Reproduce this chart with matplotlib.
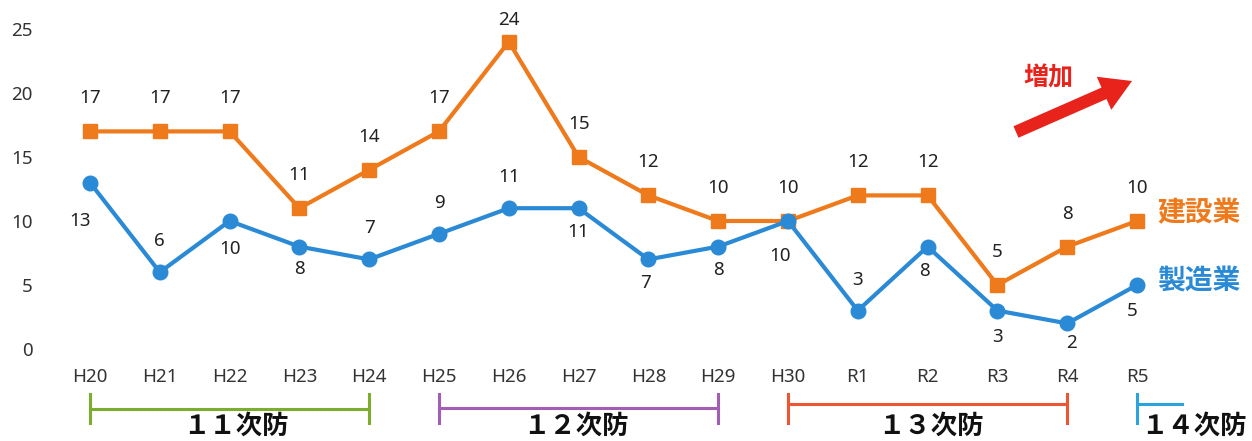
import matplotlib
matplotlib.use("Agg")
import matplotlib.pyplot as plt
from matplotlib.transforms import blended_transform_factory

plt.rcParams['font.family'] = ['Noto Sans', 'Noto Sans CJK JP', 'DejaVu Sans']

years = ["H20", "H21", "H22", "H23", "H24", "H25", "H26", "H27", "H28", "H29",
         "H30", "R1", "R2", "R3", "R4", "R5"]
construction = [17, 17, 17, 11, 14, 17, 24, 15, 12, 10, 10, 12, 12, 5, 8, 10]
manufacturing = [13, 6, 10, 8, 7, 9, 11, 11, 7, 8, 10, 3, 8, 3, 2, 5]
yticks = [0, 5, 10, 15, 20, 25]
series_names = ["建設業", "製造業"]
periods = ["１１次防", "１２次防", "１３次防", "１４次防"]
period_start = [0, 5, 10, 15]
period_end = [4, 9, 14, 15.65]
trend_label = "増加"

# label offsets (pixels) for data labels
con_offsets = [(0, 33)] * 6 + [(0, 22)] + [(0, 33)] * 9
mfg_offsets = [(-10, -38), (0, 31), (0, -28), (0, -22), (0, 31), (0, 31), (0, 31),
               (0, -24), (-3, -24), (0, -23), (-8, -35), (0, 31), (-3, -24),
               (0, -26), (4, -20), (-5, -26)]

W, H = 1252, 441
fig = plt.figure(figsize=(W / 100, H / 100), dpi=100)
ax_left, ax_right = 45, 1180
ax_bottom, ax_top = 349, 29  # pixels from top
ax = fig.add_axes([ax_left / W, (H - ax_bottom) / H, (ax_right - ax_left) / W,
                   (ax_bottom - ax_top) / H])
px_per_unit = 69.8
x0_px = 90
ax.set_xlim(-(x0_px - ax_left) / px_per_unit, (ax_right - x0_px) / px_per_unit)
ax.set_ylim(0, 25)

orange = "#EE7A1C"
blue = "#2A8AD6"
xs = list(range(len(years)))

ax.plot(xs, construction, color=orange, lw=3.0, marker="s", ms=10.5, zorder=3,
        clip_on=False)
ax.plot(xs, manufacturing, color=blue, lw=3.0, marker="o", ms=10.5, zorder=3,
        clip_on=False)

fs = 13.5
for x, v, (dx, dy) in zip(xs, construction, con_offsets):
    ax.annotate(str(v), (x, v), xytext=(dx * 0.72, dy * 0.72), textcoords="offset points",
                ha="center", va="center", fontsize=fs, color="#222222")
for x, v, (dx, dy) in zip(xs, manufacturing, mfg_offsets):
    ax.annotate(str(v), (x, v), xytext=(dx * 0.72, dy * 0.72), textcoords="offset points",
                ha="center", va="center", fontsize=fs, color="#222222")

for s in ax.spines.values():
    s.set_visible(False)
ax.set_yticks(yticks)
ax.set_xticks(xs)
ax.set_xticklabels(years)
ax.tick_params(axis="both", length=0, labelsize=fs, labelcolor="#333333")
ax.tick_params(axis="x", pad=14)
ax.tick_params(axis="y", pad=9)

# series labels on right
fig.text(1157 / W, (H - 213) / H, series_names[0], color=orange, fontsize=20,
         fontweight="bold", ha="left", va="center", family=["Noto Sans CJK JP"])
fig.text(1157 / W, (H - 281) / H, series_names[1], color=blue, fontsize=20,
         fontweight="bold", ha="left", va="center", family=["Noto Sans CJK JP"])

# trend arrow
red = "#E8231C"
fig.text(1048 / W, (H - 78) / H, trend_label, color=red, fontsize=18,
         fontweight="bold", ha="center", va="center", family=["Noto Sans CJK JP"])
ax.annotate("", xy=(1132, H - 81), xytext=(1016, H - 132),
            xycoords="figure pixels", textcoords="figure pixels",
            arrowprops=dict(arrowstyle="simple,head_length=22,head_width=26,tail_width=9",
                            mutation_scale=1, color=red, lw=0, shrinkA=0, shrinkB=0))

# period brackets
trans = blended_transform_factory(ax.transData, fig.transFigure)
pcolors = ["#7BAE2C", "#A35DB4", "#EE5533", "#2BA3DC"]
y_line = [409, 408, 404, 404]
label_x = [236, 576, 931, 1194]
for i, (name, a, b, c) in enumerate(zip(periods, period_start, period_end, pcolors)):
    yl = (H - y_line[i]) / H
    ax.plot([a, b], [yl, yl], color=c, lw=2.2, transform=trans, clip_on=False)
    ax.plot([a, a], [(H - 394) / H, (H - 423) / H], color=c, lw=2.2,
            transform=trans, clip_on=False)
    if i < 3:
        ax.plot([b, b], [(H - 394) / H, (H - 423) / H], color=c, lw=2.2,
                transform=trans, clip_on=False)
    fig.text(label_x[i] / W, (H - 426) / H, name, fontsize=19, fontweight="bold",
             ha="center", va="center", color="#111111", family=["Noto Sans CJK JP"])

fig.savefig("out.png", dpi=100)
